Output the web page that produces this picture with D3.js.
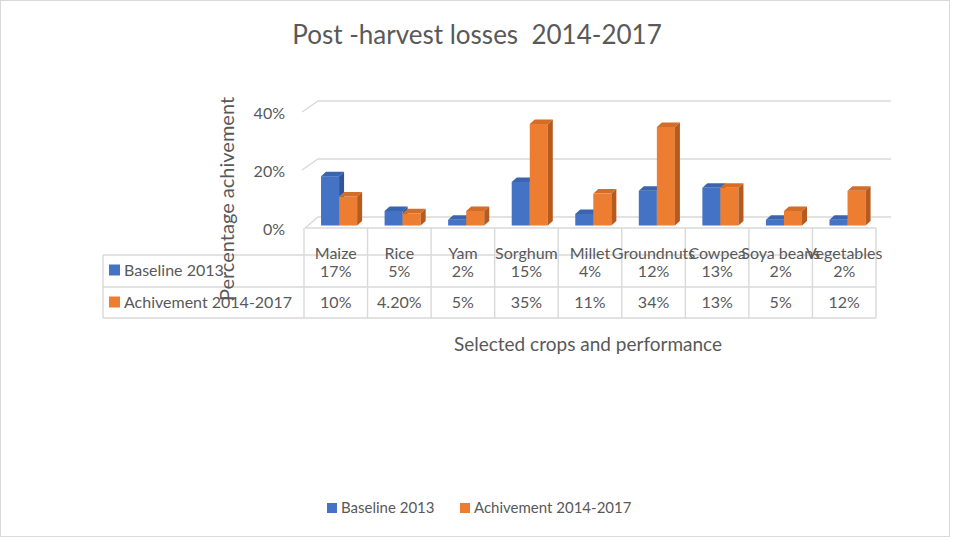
<!DOCTYPE html>
<html>
<head>
<meta charset="utf-8">
<script src="https://cdn.jsdelivr.net/npm/d3@7"></script>
<style>
  html, body { margin: 0; padding: 0; background: #fff; }
  svg { display: block; font-family: Lato, "Open Sans", sans-serif; }
</style>
</head>
<body>
<svg id="chart" width="954" height="540"></svg>
<script>
// Crops and the two series (percent)
const crops = ["Maize", "Rice", "Yam", "Sorghum", "Millet", "Groundnuts", "Cowpea", "Soya beans", "Vegetables"];
const baseline2013 = [17, 5, 2, 15, 4, 12, 13, 2, 2];
const achievement = [10, 4.2, 5, 35, 11, 34, 13, 5, 12];
const baselineLabels = ["17%", "5%", "2%", "15%", "4%", "12%", "13%", "2%", "2%"];
const achievementLabels = ["10%", "4.20%", "5%", "35%", "11%", "34%", "13%", "5%", "12%"];
const seriesNames = ["Baseline 2013", "Achivement 2014-2017"];
const yTicks = [0, 20, 40];

const colors = {
  blue:   { front: "#4472C4", top: "#3A64B0", side: "#2F5597" },
  orange: { front: "#ED7D31", top: "#D46D28", side: "#B55B20" }
};
const textColor = "#595959";
const lineColor = "#D9D9D9";

const svg = d3.select("#chart");

// outer frame
svg.append("rect")
  .attr("x", 0.5).attr("y", 0.5).attr("width", 949).attr("height", 536)
  .attr("fill", "#fff").attr("stroke", lineColor).attr("stroke-width", 1);

// title
svg.append("text")
  .attr("x", 477).attr("y", 44)
  .attr("text-anchor", "middle")
  .attr("fill", textColor)
  .attr("font-size", 26)
  .attr("xml:space", "preserve")
  .text("Post -harvest losses  2014-2017");

// scales
const x = d3.scaleBand().domain(crops).range([304, 876]).padding(0);
const yFront = d3.scaleLinear().domain([0, 40]).range([228, 112]);
const yBar = d3.scaleLinear().domain([0, 40]).range([225.5, 109.5]);
const depth = { dx: 14, dy: 11 };   // back wall offset
const barDepth = { dx: 5, dy: 4.5 }; // bar box depth

const backRight = 891;

// wall gridlines with slanted left ends
const grid = svg.append("g");
yTicks.forEach(t => {
  const yf = yFront(t), yb = yf - depth.dy;
  const xf = t === 0 ? 305 : 302;
  grid.append("path")
    .attr("d", `M${xf},${yf} L${318},${yb} L${backRight},${yb}`)
    .attr("fill", "none").attr("stroke", lineColor).attr("stroke-width", 1.4);
});

// value axis labels
const yAxis = d3.axisLeft(yFront).tickValues(yTicks).tickSize(0).tickPadding(0)
  .tickFormat(d => d + "%");
const yg = svg.append("g").attr("transform", "translate(285,1)").call(yAxis);
yg.select(".domain").remove();
yg.selectAll("text").attr("fill", textColor).attr("font-size", 16)
  .attr("font-family", "Lato, 'Open Sans', sans-serif");

// bars
const bw = x.bandwidth();
const barW = bw * 0.284;
const barOff = bw * 0.268;

function drawBar(g, x0, v, c) {
  const top = yBar(v), bottom = yBar(0);
  const dx = barDepth.dx, dy = barDepth.dy;
  g.append("rect").attr("x", x0).attr("y", top).attr("width", barW).attr("height", bottom - top)
    .attr("fill", c.front);
  g.append("path")
    .attr("d", `M${x0},${top} L${x0 + dx},${top - dy} L${x0 + barW + dx},${top - dy} L${x0 + barW},${top} Z`)
    .attr("fill", c.top);
  g.append("path")
    .attr("d", `M${x0 + barW},${top} L${x0 + barW + dx},${top - dy} L${x0 + barW + dx},${bottom - dy} L${x0 + barW},${bottom} Z`)
    .attr("fill", c.side);
}

const bars = svg.append("g");
crops.forEach((crop, i) => {
  const g = bars.append("g");
  const x0 = x(crop) + barOff;
  drawBar(g, x0, baseline2013[i], colors.blue);
  drawBar(g, x0 + barW, achievement[i], colors.orange);
});

// data table
const table = svg.append("g");
const rowTop = 255, rowMid = 287, rowBottom = 318, tableLeft = 103;
const tableRight = x.range()[1];
const line = (x1, y1, x2, y2) => table.append("line")
  .attr("x1", x1).attr("y1", y1).attr("x2", x2).attr("y2", y2)
  .attr("stroke", lineColor).attr("stroke-width", 1.4);

line(305, 228, tableRight, 228);
[rowTop, rowMid, rowBottom].forEach(yy => line(tableLeft, yy, tableRight, yy));
line(tableLeft, rowTop, tableLeft, rowBottom);
crops.forEach(c => line(x(c), 228, x(c), rowBottom));
line(tableRight, 228, tableRight, rowBottom);

// category names
table.selectAll(".cat").data(crops).join("text")
  .attr("x", d => x(d) + bw / 2).attr("y", 259)
  .attr("text-anchor", "middle").attr("fill", textColor).attr("font-size", 16)
  .text(d => d);

// values
const rows = [
  { labels: baselineLabels, y: 277, name: seriesNames[0], color: colors.blue.front, mid: 270 },
  { labels: achievementLabels, y: 308, name: seriesNames[1], color: colors.orange.front, mid: 302 }
];
rows.forEach(r => {
  table.append("g").selectAll("text").data(r.labels).join("text")
    .attr("x", (d, i) => x(crops[i]) + bw / 2).attr("y", r.y)
    .attr("text-anchor", "middle").attr("fill", textColor).attr("font-size", 16)
    .text(d => d);
  table.append("rect").attr("x", 109).attr("y", r.mid - 5.5).attr("width", 11).attr("height", 11)
    .attr("fill", r.color);
  table.append("text").attr("x", 124).attr("y", r.mid + 6)
    .attr("fill", textColor).attr("font-size", 16).text(r.name);
});

// axis titles
svg.append("text")
  .attr("transform", "translate(234,199) rotate(-90)")
  .attr("text-anchor", "middle").attr("fill", textColor).attr("font-size", 20)
  .text("Percentage achivement");

svg.append("text")
  .attr("x", 588).attr("y", 351)
  .attr("text-anchor", "middle").attr("fill", textColor).attr("font-size", 19)
  .text("Selected crops and performance");

// legend
const legend = svg.append("g");
const legendItems = [
  { name: seriesNames[0], color: colors.blue.front, x: 327 },
  { name: seriesNames[1], color: colors.orange.front, x: 460 }
];
legendItems.forEach(it => {
  legend.append("rect").attr("x", it.x).attr("y", 503).attr("width", 10).attr("height", 10)
    .attr("fill", it.color);
  legend.append("text").attr("x", it.x + 14).attr("y", 513)
    .attr("fill", textColor).attr("font-size", 15).text(it.name);
});
</script>
</body>
</html>
